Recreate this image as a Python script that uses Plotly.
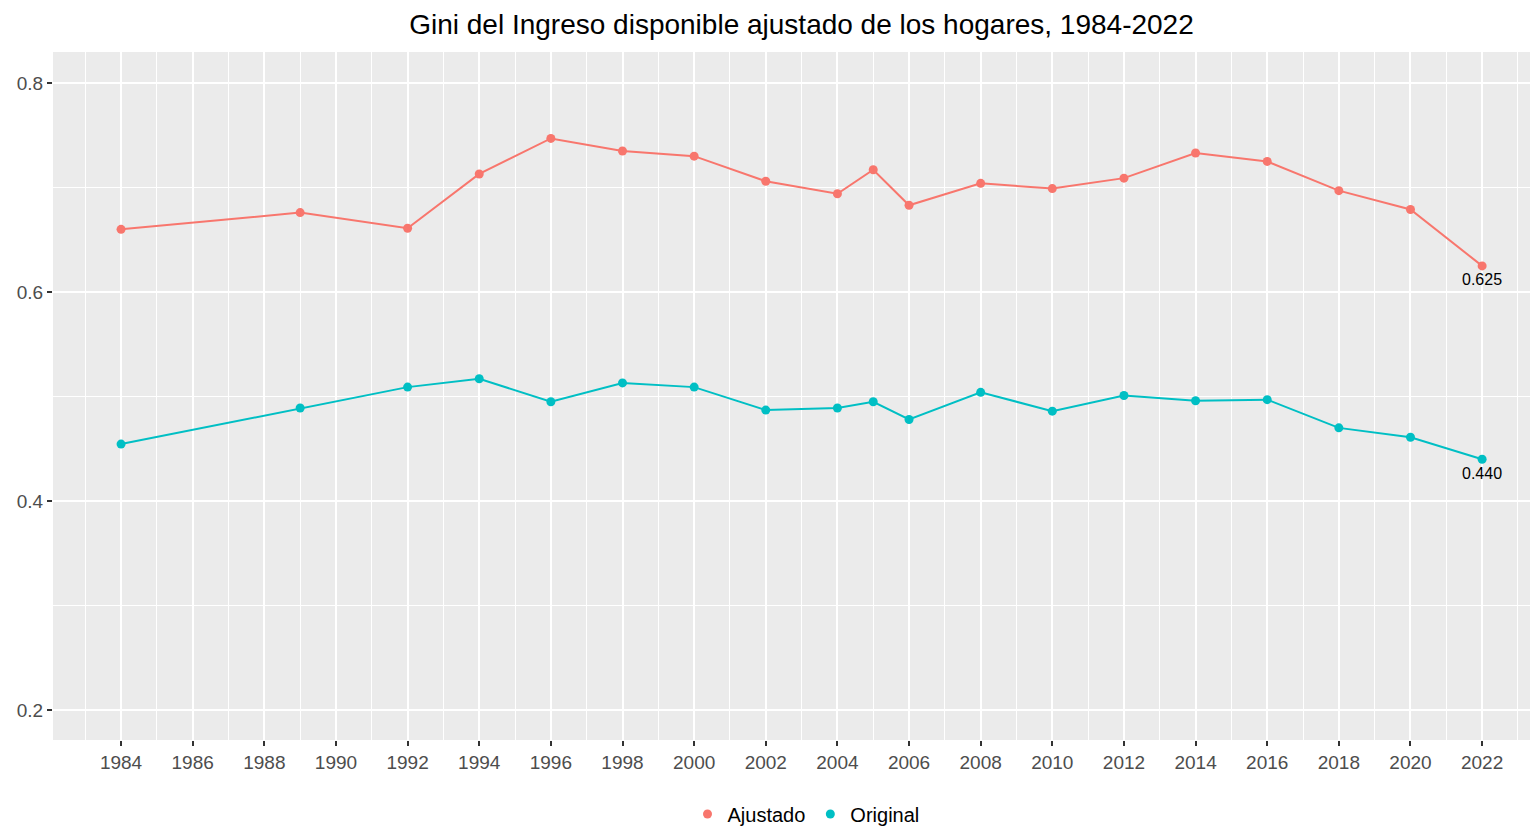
import plotly.graph_objects as go

years = [1984, 1989, 1992, 1994, 1996, 1998, 2000, 2002, 2004, 2005, 2006,
         2008, 2010, 2012, 2014, 2016, 2018, 2020, 2022]
ajustado = [0.660, 0.676, 0.661, 0.713, 0.747, 0.735, 0.730, 0.706, 0.694, 0.717,
            0.683, 0.704, 0.699, 0.709, 0.733, 0.725, 0.697, 0.679, 0.625]
original = [0.4545, 0.489, 0.509, 0.517, 0.495, 0.513, 0.509, 0.487, 0.489, 0.495,
            0.478, 0.504, 0.486, 0.501, 0.496, 0.497, 0.470, 0.461, 0.440]
series_names = ["Ajustado", "Original"]
colors = ["#F8766D", "#00BFC4"]
x_ticks = list(range(1984, 2023, 2))
y_ticks = [0.2, 0.4, 0.6, 0.8]
title = "Gini del Ingreso disponible ajustado de los hogares, 1984-2022"

# page offset of the plot div (default body margin)
OFF = 8
W, H = 1538 - OFF, 829 - OFF
L = 53 - OFF
T = 52 - OFF
B = H - (740 - OFF)
R = 0
PW = W - L - R
PH = H - T - B

fig = go.Figure()
for name, vals, col in zip(series_names, [ajustado, original], colors):
    fig.add_trace(go.Scatter(x=years, y=vals, mode="lines+markers", name=name,
                             line=dict(color=col, width=2),
                             marker=dict(color=col, size=9),
                             showlegend=False, hoverinfo="x+y"))
    fig.add_trace(go.Scatter(x=[None], y=[None], mode="markers", name=name,
                             marker=dict(color=col, size=9), showlegend=True))
    fig.add_annotation(x=years[-1], y=vals[-1], text=f"{vals[-1]:.3f}",
                       showarrow=False, yshift=-14,
                       font=dict(family="Liberation Sans, Arial", size=16, color="black"))

fig.update_layout(
    width=W, height=H, autosize=False,
    margin=dict(l=L, r=R, t=T, b=B, autoexpand=False),
    paper_bgcolor="white", plot_bgcolor="#EBEBEB",
    font=dict(family="Liberation Sans, Arial", color="#4D4D4D"),
    title=dict(text=title, x=(801.5 - OFF) / W, xref="container", xanchor="center",
               y=1 - (24 - OFF) / H, yref="container", yanchor="middle",
               font=dict(size=28, color="black")),
    legend=dict(orientation="h", x=(806 - 53) / PW, xanchor="center",
                y=-(814 - 740) / PH, yanchor="middle", font=dict(size=20, color="black"),
                bgcolor="rgba(0,0,0,0)", itemwidth=30, tracegroupgap=0),
    showlegend=True,
)
fig.update_xaxes(range=[1982.1, 2023.56], tickmode="array", tickvals=x_ticks,
                 ticktext=[str(v) for v in x_ticks], tickangle=0, automargin=False,
                 showgrid=True, gridcolor="white", gridwidth=2,
                 minor=dict(dtick=1, tick0=1983, showgrid=True, gridcolor="white", gridwidth=1),
                 ticks="outside", ticklen=5, tickwidth=2, tickcolor="#333333",
                 tickfont=dict(size=19, color="#4D4D4D"), zeroline=False, showline=False)
fig.update_yaxes(range=[0.1713, 0.8297], tickmode="array", tickvals=y_ticks,
                 ticktext=[f"{v:.1f}" for v in y_ticks], automargin=False,
                 showgrid=True, gridcolor="white", gridwidth=2,
                 minor=dict(dtick=0.1, tick0=0.1, showgrid=True, gridcolor="white", gridwidth=1),
                 ticks="outside", ticklen=5, tickwidth=2, tickcolor="#333333",
                 tickfont=dict(size=19, color="#4D4D4D"), zeroline=False, showline=False)

fig.write_html("out.html", post_script="document.body.style.overflow='hidden';")
